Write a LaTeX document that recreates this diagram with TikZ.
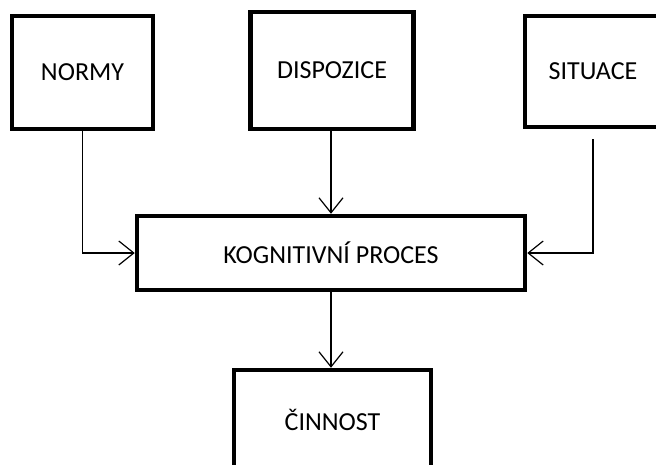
\documentclass[tikz,border=0pt]{standalone}
\usepackage{fontspec}
\setmainfont{Carlito}
\usetikzlibrary{arrows.meta,positioning}
\tikzset{block/.style={draw,line width=4.5pt,inner sep=0pt,font=\fontsize{26}{30}\selectfont},
         link/.style={line width=1.2pt,-{Straight Barb[length=15pt,width=24pt,line width=1.2pt]}}}

\begin{document}
\begin{tikzpicture}[x=1pt,y=-1pt]

\useasboundingbox (0,0) rectangle (656,464);

% Nodes
\node[block,minimum width=141pt,minimum height=113pt] (normy) at (82.5,72.5) {NORMY};
\node[block,minimum width=163pt,minimum height=117pt] (dispozice) at (332,70.5) {DISPOZICE};
\node[block,minimum width=136pt,minimum height=111pt] (situace) at (593,71.5) {SITUACE};
\node[block,minimum width=388pt,minimum height=74pt] (proces) at (331,253) {KOGNITIVNÍ PROCES};
\node[block,minimum width=197pt,minimum height=100pt] (cinnost) at (332.5,420) {ČINNOST};

% Links
\draw[link] (normy.south) |- (proces.west);
\draw[link] (dispozice.south -| proces.north) -- (proces.north);
\draw[link,shorten <=10pt] (situace.south) |- (proces.east);
\draw[link] (proces.south) -- (proces.south |- cinnost.north);

\end{tikzpicture}
\end{document}
